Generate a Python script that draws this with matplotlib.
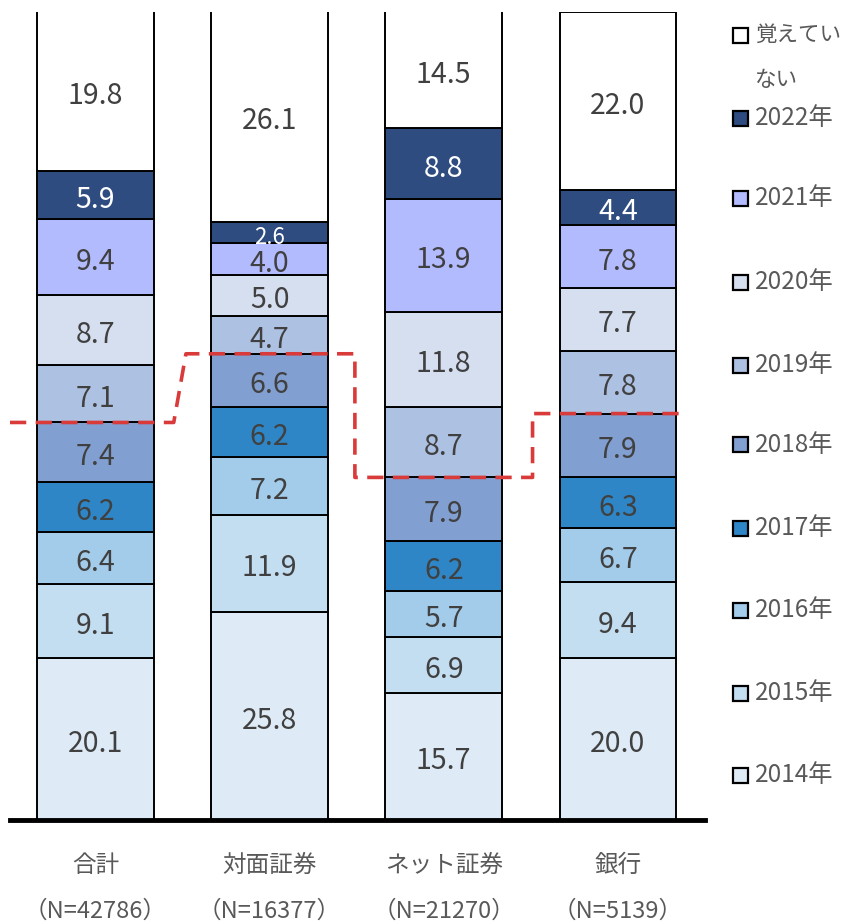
import numpy as np
import matplotlib.pyplot as plt
from matplotlib.patches import Rectangle

plt.rcParams['font.family'] = ['Noto Sans CJK JP', 'DejaVu Sans']

categories = ['合計', '対面証券', 'ネット証券', '銀行']
sample_sizes = ['（N=42786）', '（N=16377）', '（N=21270）', '（N=5139）']
series = ['2014年', '2015年', '2016年', '2017年', '2018年',
          '2019年', '2020年', '2021年', '2022年', '覚えていない']
values = [
    [20.1, 25.8, 15.7, 20.0],
    [9.1, 11.9, 6.9, 9.4],
    [6.4, 7.2, 5.7, 6.7],
    [6.2, 6.2, 6.2, 6.3],
    [7.4, 6.6, 7.9, 7.9],
    [7.1, 4.7, 8.7, 7.8],
    [8.7, 5.0, 11.8, 7.7],
    [9.4, 4.0, 13.9, 7.8],
    [5.9, 2.6, 8.8, 4.4],
    [19.8, 26.1, 14.5, 22.0],
]
colors = ['#deebf7', '#c3ddf1', '#a3cbea', '#2e86c6', '#819fd1',
          '#adc1e2', '#d6dff0', '#b3bbff', '#2e4c80', '#ffffff']
text_colors = ['#404040'] * 8 + ['#ffffff', '#404040']

fig = plt.figure(figsize=(8.45, 9.23), dpi=100)
ax = fig.add_axes([10 / 845, (923 - 820) / 923, 695 / 845, 808 / 923])

x = np.arange(len(categories))
width = 0.67
bottom = np.zeros(len(categories))
for i, name in enumerate(series):
    v = np.array(values[i])
    ax.bar(x, v, width, bottom=bottom, color=colors[i], edgecolor='black',
           linewidth=1.4, label=name, zorder=2)
    for j in range(len(categories)):
        fs = 16 if v[j] < 3 else 20.5
        ax.annotate('{:.1f}'.format(v[j]), (x[j], bottom[j] + v[j] / 2),
                    xytext=(0, -3.5), textcoords='offset points',
                    ha='center', va='center', fontsize=fs,
                    color=text_colors[i], zorder=4)
    bottom = bottom + v

# red dashed step line at the top of 2018
level = np.sum(values[:5], axis=0)
lx = [-0.49, 0.45, 0.52, 1.49, 1.49, 2.51, 2.51, 3.38]
ly = [level[0], level[0], level[1], level[1], level[2], level[2], level[3], level[3]]
ax.plot(lx, ly, color='#d93a3a', linewidth=2.6, linestyle=(0, (4.5, 2.6)),
        zorder=5)

ax.set_xlim(-0.49, 3.5)
ax.set_ylim(0, 100)
ax.set_yticks([])
ax.set_xticks([])
for s in ['top', 'right', 'left']:
    ax.spines[s].set_visible(False)
ax.spines['bottom'].set_linewidth(3.5)
ax.spines['bottom'].set_zorder(6)

for j in range(len(categories)):
    ax.annotate(categories[j], (x[j], 0), xycoords=('data', 'axes fraction'),
                xytext=(0, -33), textcoords='offset points', ha='center',
                va='center', fontsize=17, color='#595959')
    ax.annotate(sample_sizes[j], (x[j], 0), xycoords=('data', 'axes fraction'),
                xytext=(0, -65.5), textcoords='offset points', ha='center',
                va='center', fontsize=17, color='#595959')

# legend drawn by hand
leg_y = [775, 693, 610, 528, 445, 365, 282, 198, 118, 35]
for i, name in enumerate(series):
    yy = 1 - leg_y[i] / 923
    fig.patches.append(Rectangle((733 / 845, yy - 7.5 / 923), 15 / 845, 15 / 923,
                                 transform=fig.transFigure, facecolor=colors[i],
                                 edgecolor='black', linewidth=1.6))
    lines = [name] if len(name) < 6 else [name[:4], name[4:]]
    fs = 17.5 if len(lines) == 1 else 15.5
    for k, line in enumerate(lines):
        fig.text(755 / 845, yy - k * 45 / 923, line, ha='left', va='center',
                 fontsize=fs, color='#595959')

fig.savefig('out.png', dpi=100)
